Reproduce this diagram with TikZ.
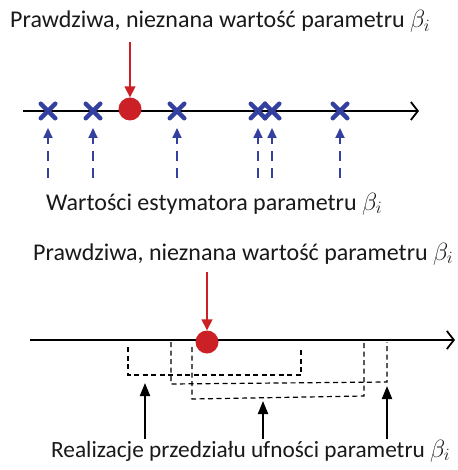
\documentclass[tikz,border=0pt]{standalone}
\usepackage{fontspec}
\setmainfont{Carlito}
\usetikzlibrary{arrows.meta,shapes.misc}
\definecolor{myred}{RGB}{204,32,39}
\definecolor{myblue}{RGB}{52,64,160}
\definecolor{mytext}{RGB}{25,25,25}
\begin{document}
\begin{tikzpicture}[x=1pt,y=-1pt,
  lbl/.style={anchor=base west,inner sep=0pt,font=\fontsize{24}{28}\selectfont,text=mytext},
  axis/.style={line width=1.8pt,-{Straight Barb[length=7pt,width=18pt,line width=1.8pt]}},
  truept/.style={circle,fill=myred,minimum size=23pt,inner sep=0pt},
  redarr/.style={myred,line width=1.6pt,-{Triangle[length=11pt,width=11pt]}},
  est/.style={cross out,draw=myblue,line width=4.5pt,minimum size=10pt,inner sep=0pt,line cap=round},
  estarr/.style={myblue,line width=2pt,dash pattern=on 10pt off 7pt,-{Triangle[length=10pt,width=9pt]}},
  ci/.style={black,line width=1.2pt,dash pattern=on 5pt off 3.5pt},
  blkarr/.style={black,line width=2pt,-{Triangle[length=13pt,width=10pt]}}]
\useasboundingbox (0,0) rectangle (457,470);
% ---------- top ----------
\node[lbl] (t1) at (10,28) {Prawdziwa, nieznana wartość parametru $\beta_i$};
\coordinate (a1s) at (23,111);
\coordinate (a1e) at (419,111);
\draw[axis] (a1s) -- (a1e);
\node[truept] (p1) at (130,109) {};
\coordinate (r1) at (130,42);
\draw[redarr] (r1) -- (p1.north);
\foreach \n/\x in {e1/48,e2/93,e3/177,e4/258,e5/272,e6/340}{
  \node[est] (\n) at (\x,111) {};
  \coordinate (\n b) at (\x,178);
  \draw[estarr] (\n b) -- ([yshift=-17pt]\n.center);
}
\node[lbl] (t2) at (46,210) {Wartości estymatora parametru $\beta_i$};
% ---------- bottom ----------
\node[lbl] (t3) at (33,260) {Prawdziwa, nieznana wartość parametru $\beta_i$};
\coordinate (a2s) at (30,340);
\coordinate (a2e) at (455,340);
\draw[axis] (a2s) -- (a2e);
\node[truept] (p2) at (207,342) {};
\coordinate (r2) at (207,272);
\draw[redarr] (r2) -- (p2.north);
% confidence intervals
\coordinate (c1a) at (128,347); \coordinate (c1b) at (128,375);
\coordinate (c1c) at (301,375); \coordinate (c1d) at (301,347);
\draw[ci] (c1a) -- (c1b) -- (c1c) -- (c1d);
\coordinate (c2a) at (171,342); \coordinate (c2b) at (171,384);
\coordinate (c2c) at (387,382); \coordinate (c2d) at (387,342);
\draw[ci] (c2a) -- (c2b) -- (c2c) -- (c2d);
\coordinate (c3a) at (192,347); \coordinate (c3b) at (192,399);
\coordinate (c3c) at (364,396); \coordinate (c3d) at (364,342);
\draw[ci] (c3a) -- (c3b) -- (c3c) -- (c3d);
% black arrows
\coordinate (b1s) at (145,439); \coordinate (b1e) at (145,383);
\coordinate (b2s) at (263,439); \coordinate (b2e) at (263,401);
\coordinate (b3s) at (387,439); \coordinate (b3e) at (387,386);
\draw[blkarr] (b1s) -- (b1e);
\draw[blkarr] (b2s) -- (b2e);
\draw[blkarr] (b3s) -- (b3e);
\node[lbl,font=\fontsize{23.3}{28}\selectfont] (t4) at (51,457) {Realizacje przedziału ufności parametru $\beta_i$};
\end{tikzpicture}
\end{document}
